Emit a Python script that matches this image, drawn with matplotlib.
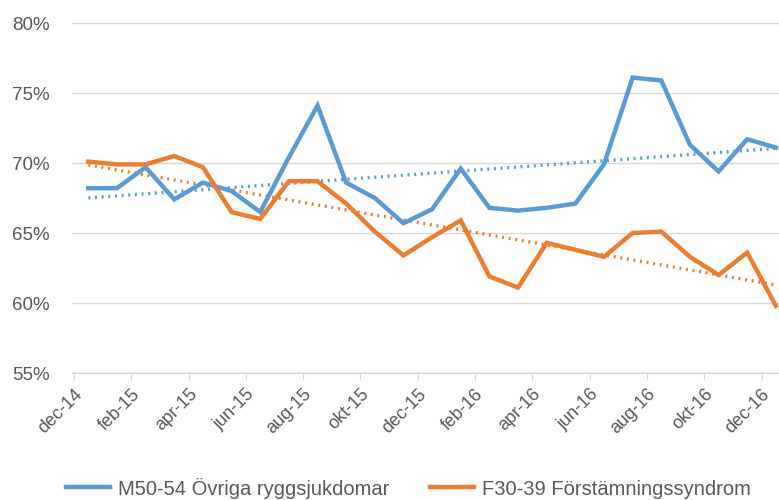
import numpy as np
import matplotlib
matplotlib.use("Agg")
import matplotlib.pyplot as plt
from matplotlib.ticker import FuncFormatter

months = ["dec-14", "jan-15", "feb-15", "mar-15", "apr-15", "maj-15", "jun-15", "jul-15",
          "aug-15", "sep-15", "okt-15", "nov-15", "dec-15", "jan-16", "feb-16", "mar-16",
          "apr-16", "maj-16", "jun-16", "jul-16", "aug-16", "sep-16", "okt-16", "nov-16", "dec-16"]
m50 = [68.2, 68.2, 69.7, 67.4, 68.6, 68.0, 66.5, 70.4, 74.1, 68.6, 67.5, 65.7, 66.7,
       69.6, 66.8, 66.6, 66.8, 67.1, 69.9, 76.1, 75.9, 71.3, 69.4, 71.7, 71.1]
f30 = [70.1, 69.9, 69.9, 70.5, 69.7, 66.5, 66.0, 68.7, 68.7, 67.1, 65.1, 63.4, 64.7,
       65.9, 61.9, 61.1, 64.3, 63.8, 63.3, 65.0, 65.1, 63.3, 62.0, 63.6, 59.8]
series_names = ["M50-54 Övriga ryggsjukdomar", "F30-39 Förstämningssyndrom"]
y_ticks = [55, 60, 65, 70, 75, 80]

blue = "#5B9BD5"
orange = "#ED7D31"
gray = "#595959"

plt.rcParams['font.family'] = ['Liberation Sans', 'DejaVu Sans']

fig = plt.figure(figsize=(7.79, 5.0), dpi=100)
ax = fig.add_axes([72/779, 1-373/500, 1-72/779, 350/500])

x = np.arange(len(months))
for vals, col, name in [(m50, blue, series_names[0]), (f30, orange, series_names[1])]:
    ax.plot(x, vals, color=col, lw=3.2, label=name, solid_joinstyle='miter', zorder=3)
    coef = np.polyfit(x, vals, 1)
    ax.plot(x, np.polyval(coef, x), color=col, lw=2.4, ls=(0, (0.6, 1.4)), zorder=2)

ax.set_ylim(55, 80)
ax.set_yticks(y_ticks)
ax.yaxis.set_major_formatter(FuncFormatter(lambda v, p: f"{int(v)}%"))
ax.set_xlim(-0.57, 24.11)
tick_pos = [i - 0.5 for i in range(0, 25, 2)]
ax.set_xticks(tick_pos)
ax.set_xticklabels([months[i] for i in range(0, 25, 2)], rotation=45, ha='right',
                   rotation_mode='anchor')

ax.grid(axis='y', color='#D9D9D9', lw=1.0)
ax.set_axisbelow(True)
for s in ['left', 'right', 'top']:
    ax.spines[s].set_visible(False)
ax.spines['bottom'].set_color('#D9D9D9')
ax.spines['bottom'].set_linewidth(1.0)
ax.tick_params(axis='y', length=0, labelsize=13.5, labelcolor=gray, pad=16)
ax.tick_params(axis='x', length=5, color='#D9D9D9', labelsize=13, labelcolor=gray, pad=4)

fig.legend(loc='center', bbox_to_anchor=(0.524, 1-488/500), ncol=2, frameon=False,
           fontsize=14.5, labelcolor=gray, handlelength=2.2, columnspacing=2.0,
           handletextpad=0.4)

fig.savefig("out.png", dpi=100)
